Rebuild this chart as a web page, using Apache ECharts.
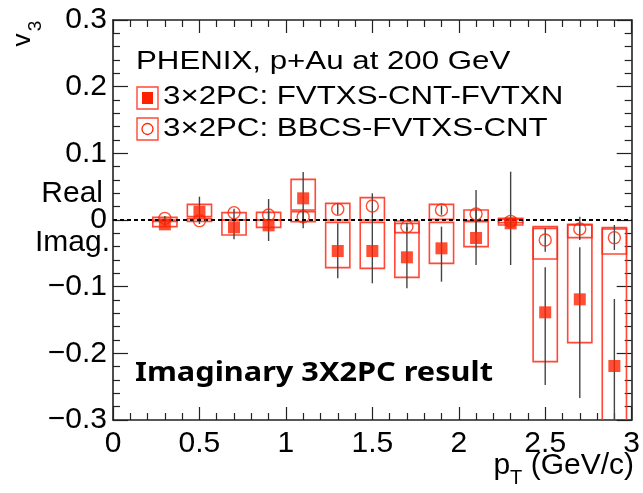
<!DOCTYPE html>
<html><head><meta charset="utf-8">
<script src="https://cdn.jsdelivr.net/npm/echarts@6.0.0/dist/echarts.min.js"></script>
<style>html,body{margin:0;padding:0;background:#fff}#c{width:643px;height:493px}</style>
</head><body><div id="c"></div>
<script>
// ---- data ----
const pT = [0.3,0.5,0.7,0.9,1.1,1.3,1.5,1.7,1.9,2.1,2.3,2.5,2.7,2.9];
// 3x2PC: FVTXS-CNT-FVTXN (filled squares)
const fvtxV     = [-0.0065,0.0125,-0.011,-0.008,0.0325,-0.0465,-0.0465,-0.056,-0.0425,-0.027,-0.005,-0.1385,-0.119,-0.219];
const fvtxErrLo = [-0.010,0.000,-0.029,-0.0315,-0.0125,-0.0875,-0.095,-0.1025,-0.0925,-0.0675,-0.0675,-0.2475,-0.267,-0.34];
const fvtxErrHi = [-0.003,0.035,0.005,0.014,0.072,-0.005,0.002,-0.010,-0.010,0.014,0.0725,-0.071,-0.041,-0.1185];
const fvtxSysLo = [-0.010,0.005,-0.0225,-0.011,0.015,-0.0715,-0.0725,-0.086,-0.065,-0.040,-0.0075,-0.2125,-0.184,-0.34];
const fvtxSysHi = [0.000,0.0235,0.000,0.000,0.061,-0.0035,-0.0035,-0.005,-0.0035,-0.0025,0.0025,-0.010,-0.0075,-0.0115];
// 3x2PC: BBCS-FVTXS-CNT (open circles)
const bbcsV     = [0.0025,-0.001,0.011,0.0075,0.005,0.016,0.021,-0.010,0.015,0.009,-0.002,-0.030,-0.0135,-0.0265];
const bbcsErrLo = [-0.002,-0.006,0.004,0.000,-0.006,0.008,0.002,-0.016,0.008,-0.020,-0.006,-0.0475,-0.030,-0.045];
const bbcsErrHi = [0.006,0.003,0.017,0.0315,0.016,0.024,0.040,-0.004,0.022,0.045,0.002,-0.0125,0.005,-0.0075];
const bbcsSysLo = [-0.002,-0.002,0.000,0.000,-0.0025,0.000,0.000,-0.019,0.001,-0.001,-0.004,-0.0585,-0.0265,-0.051];
const bbcsSysHi = [0.004,0.002,0.011,0.0115,0.0125,0.025,0.0335,-0.0015,0.0235,0.015,0.001,-0.0125,-0.0065,-0.0135];
// axes
const xTicks = [0,0.5,1,1.5,2,2.5,3];
const xTickLabels = ['0','0.5','1','1.5','2','2.5','3'];
const yTicks = [-0.3,-0.2,-0.1,0,0.1,0.2,0.3];
const yTickLabels = ['\u22120.3','\u22120.2','\u22120.1','0','0.1','0.2','0.3'];
const seriesNames = ['3\u00d72PC: FVTXS-CNT-FVTXN','3\u00d72PC: BBCS-FVTXS-CNT'];
const headerText = 'PHENIX, p+Au at 200 GeV';
const noteText = 'Imaginary 3X2PC result';

// ---- style ----
const RED = '#ff2200';
const BOXRED = 'rgba(255,40,20,0.85)';
const BOXHW = 0.07;
const FONT = '"Liberation Sans", Arial, sans-serif';
const AXC = '#222';

const ctx = document.createElement('canvas').getContext('2d');
function tw(s, font){ctx.font=font; return ctx.measureText(s).width;}

function labelFrom(ticks, labels){return v => {for(let i=0;i<ticks.length;i++){if(Math.abs(ticks[i]-v)<1e-6)return labels[i];}return '';};}

function boxRender(params, api){
  const x=api.value(0), lo=api.value(1), hi=api.value(2);
  const p1=api.coord([x-BOXHW, hi]), p2=api.coord([x+BOXHW, lo]);
  return {type:'rect', shape:{x:p1[0], y:p1[1], width:p2[0]-p1[0], height:p2[1]-p1[1]},
    style:{fill:'none', stroke:BOXRED, lineWidth:1.6}};
}
function errRender(params, api){
  const x=api.value(0), lo=api.value(1), hi=api.value(2);
  const a=api.coord([x, lo]), b=api.coord([x, hi]);
  return {type:'line', shape:{x1:a[0], y1:a[1], x2:b[0], y2:b[1]}, style:{stroke:'#444', lineWidth:1.4}};
}
const zip3 = (a,b,c)=>a.map((v,i)=>[v,b[i],c[i]]);

const xAxisBase = {type:'value', min:0, max:3, interval:0.5,
  axisLine:{show:true, onZero:false, lineStyle:{color:AXC, width:1.6}},
  axisTick:{show:true, inside:true, length:13, lineStyle:{color:AXC, width:1.2}},
  minorTick:{show:true, splitNumber:5, length:7, lineStyle:{color:AXC, width:1.2}},
  splitLine:{show:false}, minorSplitLine:{show:false}};
const yAxisBase = {type:'value', min:-0.3, max:0.3, interval:0.1,
  axisLine:{show:true, onZero:false, lineStyle:{color:AXC, width:1.6}},
  axisTick:{show:true, inside:true, length:15, lineStyle:{color:AXC, width:1.2}},
  minorTick:{show:true, splitNumber:5, length:7, lineStyle:{color:AXC, width:1.2}},
  splitLine:{show:false}, minorSplitLine:{show:false}};

function txt(x, y, s, font, align, sx, extra){
  return Object.assign({type:'text', x:x, y:y, scaleX:sx||1, style:{text:s, font:font, fill:'#000', align:align, verticalAlign:'middle'}}, extra||{});
}

// text layout
const gr = [];
const F = n => n+'px '+FONT;
// y title v_3 (rotated)
gr.push(txt(23, 40, 'v', F(26), 'center', 1, {rotation:Math.PI/2}));
gr.push(txt(36, 26, '3', F(19), 'center', 1, {rotation:Math.PI/2}));
// x title p_T (GeV/c)
const xr = 634, xm = 466;
const w1 = tw(' (GeV/c)', F(30)), wT = tw('T', F(20)), wp = tw('p', F(30));
gr.push(txt(xr, xm, ' (GeV/c)', F(30), 'right'));
gr.push(txt(xr-w1-wT, xm+12, 'T', F(20), 'left'));
gr.push(txt(xr-w1-wT-wp, xm, 'p', F(30), 'left'));
// Real / Imag.
gr.push(txt(103, 194, 'Real', F(30), 'right'));
gr.push(txt(110, 243, 'Imag.', F(30), 'right'));
// legend
const LS = 1.25;
gr.push(txt(136, 62, headerText, F(25), 'left', LS));
gr.push({type:'rect', shape:{x:137, y:87, width:21, height:22}, style:{fill:'none', stroke:BOXRED, lineWidth:1.4}});
gr.push({type:'rect', shape:{x:142, y:92, width:11, height:12}, style:{fill:RED}});
gr.push(txt(163, 97, seriesNames[0], F(25), 'left', LS));
gr.push({type:'rect', shape:{x:137, y:118, width:21, height:22}, style:{fill:'none', stroke:BOXRED, lineWidth:1.4}});
gr.push({type:'circle', shape:{cx:147.5, cy:129, r:5.5}, style:{fill:'none', stroke:RED, lineWidth:1.3}});
gr.push(txt(163, 129, seriesNames[1], F(25), 'left', LS));
// note
const NF = 'bold 27px "Noto Sans", sans-serif';
gr.push(txt(135, 373, noteText, NF, 'left', 358/tw(noteText, NF)));

const option = {
  animation:false,
  backgroundColor:'#fff',
  grid:{left:113, right:8, top:20, bottom:73, containLabel:false},
  xAxis:[
    Object.assign({}, xAxisBase, {position:'bottom', axisLabel:{show:true, margin:9, color:'#000', fontSize:30, fontFamily:FONT, formatter:labelFrom(xTicks,xTickLabels)}}),
    Object.assign({}, xAxisBase, {position:'top', axisLabel:{show:false}})
  ],
  yAxis:[
    Object.assign({}, yAxisBase, {position:'left', axisLabel:{show:true, margin:6, color:'#000', fontSize:30, fontFamily:FONT, formatter:labelFrom(yTicks,yTickLabels)}}),
    Object.assign({}, yAxisBase, {position:'right', axisLabel:{show:false}})
  ],
  series:[
    {type:'custom', name:'fvtxSys', renderItem:boxRender, data:zip3(pT,fvtxSysLo,fvtxSysHi), clip:true, z:2},
    {type:'custom', name:'bbcsSys', renderItem:boxRender, data:zip3(pT,bbcsSysLo,bbcsSysHi), clip:true, z:2},
    {type:'custom', name:'fvtxErr', renderItem:errRender, data:zip3(pT,fvtxErrLo,fvtxErrHi), clip:true, z:3},
    {type:'custom', name:'bbcsErr', renderItem:errRender, data:zip3(pT,bbcsErrLo,bbcsErrHi), clip:true, z:3},
    {type:'line', name:'zero', data:[[0,0],[3,0]], symbol:'none', lineStyle:{color:'#000', width:2, type:[4,3]}, z:4, silent:true},
    {type:'scatter', name:seriesNames[0], data:pT.map((x,i)=>[x,fvtxV[i]]), symbol:'rect', symbolSize:12, itemStyle:{color:RED}, z:5},
    {type:'scatter', name:seriesNames[1], data:pT.map((x,i)=>[x,bbcsV[i]]), symbol:'circle', symbolSize:12, itemStyle:{color:'rgba(0,0,0,0)', borderColor:RED, borderWidth:1.4}, z:5}
  ],
  graphic:gr
};
const chart = echarts.init(document.getElementById('c'), null, {renderer:'canvas'});
chart.setOption(option);
</script></body></html>
